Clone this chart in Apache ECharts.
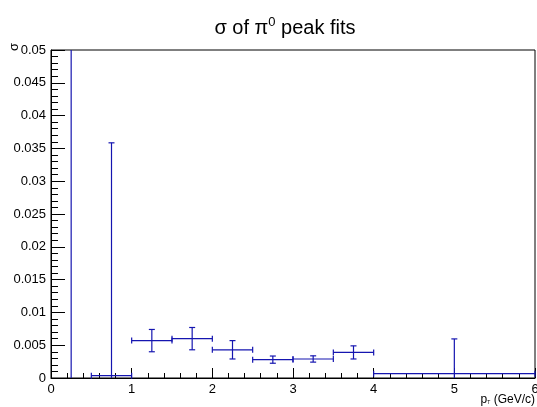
<!DOCTYPE html>
<html><head><meta charset="utf-8">
<script src="https://cdn.jsdelivr.net/npm/echarts@6/dist/echarts.min.js"></script>
<style>html,body{margin:0;padding:0;background:#fff}#c{width:537px;height:407px}</style>
</head><body><div id="c"></div>
<script>
// bin edges (pT, GeV/c)
const binLow  = [0,    0.5,     1.0,    1.5,    2.0,    2.5,    3.0,    3.5,    4.0];
const binHigh = [0.5,  1.0,     1.5,    2.0,    2.5,    3.0,    3.5,    4.0,    6.0];
// sigma values and errors
const sigma   = [0.07, 0.00035, 0.0057, 0.0060, 0.0043, 0.0028, 0.0029, 0.0039, 0.00066];
const sigErr  = [0.08, 0.0355,  0.0017, 0.0017, 0.0014, 0.00055,0.00048,0.0010, 0.0053];
const xTicks = [0,1,2,3,4,5,6];

const YMIN = 0, YMAX = 0.05, XMIN = 0, XMAX = 6;
const data = binLow.map((lo,i)=>[lo, binHigh[i], sigma[i], sigErr[i]]);
const COL = '#1515b0';
const FONT = 'Liberation Sans, Arial, Helvetica, sans-serif';

const chart = echarts.init(document.getElementById('c'), null, {renderer:'canvas'});
chart.setOption({
  animation:false,
  backgroundColor:'#fff',
  grid:{left:51, right:2, top:50, bottom:29, containLabel:false, outerBoundsMode:'none',
    show:true, borderColor:'#000', borderWidth:1, backgroundColor:'transparent'},
  xAxis:{type:'value', min:XMIN, max:XMAX, interval:1,
    axisLine:{show:true, onZero:false, lineStyle:{color:'#000', width:1}},
    axisTick:{show:true, inside:true, length:10, lineStyle:{color:'#000'}},
    minorTick:{show:true, splitNumber:5, length:5, lineStyle:{color:'#000'}},
    splitLine:{show:false},
    axisLabel:{color:'#000', fontSize:13, fontFamily:FONT, margin:5, showMaxLabel:true, showMinLabel:true,
      formatter:(v)=>String(xTicks[Math.round(v)] !== undefined ? xTicks[Math.round(v)] : v)}
  },
  yAxis:{type:'value', min:YMIN, max:YMAX, interval:0.005,
    axisLine:{show:true, onZero:false, lineStyle:{color:'#000', width:1}},
    axisTick:{show:true, inside:true, length:14, lineStyle:{color:'#000'}},
    minorTick:{show:true, splitNumber:5, length:7, lineStyle:{color:'#000'}},
    splitLine:{show:false},
    axisLabel:{color:'#000', fontSize:13, fontFamily:FONT, margin:5,
      formatter:(v)=>String(parseFloat(v.toFixed(4)))}
  },
  graphic:[
    {type:'text', x:285, y:28, style:{
      text:'{a|σ of π}{s|0}{a| peak fits}', textAlign:'center', textVerticalAlign:'middle',
      rich:{a:{fontSize:20, fontFamily:FONT, fill:'#000'}, s:{fontSize:13, fontFamily:FONT, fill:'#000', verticalAlign:'top', padding:[0,0,12,0]}}
    }},
    {type:'text', x:14, y:47, rotation:Math.PI/2, style:{text:'σ', fontSize:13, fontFamily:FONT, fill:'#000', textAlign:'center', textVerticalAlign:'middle'}},
    {type:'text', x:535, y:400, style:{
      text:'{a|p}{t|T}{a| (GeV/c)}', textAlign:'right', textVerticalAlign:'middle',
      rich:{a:{fontSize:12, fontFamily:FONT, fill:'#000'}, t:{fontSize:5, fontFamily:FONT, fill:'#000', padding:[6,0,0,0]}}
    }}
  ],
  series:[{
    type:'custom',
    data:data,
    encode:{x:[0,1], y:2},
    renderItem:function(params, api){
      const lo = api.value(0), hi = api.value(1), v = api.value(2), e = api.value(3);
      const children = [];
      const clampY = (y)=>Math.max(YMIN, Math.min(YMAX, y));
      const style = {stroke:COL, lineWidth:1.2};
      const cap = 3;
      if (v >= YMIN && v <= YMAX) {
        const p1 = api.coord([lo, v]), p2 = api.coord([hi, v]);
        children.push({type:'line', shape:{x1:p1[0], y1:p1[1], x2:p2[0], y2:p2[1]}, style:style});
        children.push({type:'line', shape:{x1:p1[0], y1:p1[1]-cap, x2:p1[0], y2:p1[1]+cap}, style:style});
        children.push({type:'line', shape:{x1:p2[0], y1:p2[1]-cap, x2:p2[0], y2:p2[1]+cap}, style:style});
      }
      const xc = (lo+hi)/2;
      const top = v + e, bot = v - e;
      const q1 = api.coord([xc, clampY(bot)]), q2 = api.coord([xc, clampY(top)]);
      children.push({type:'line', shape:{x1:q1[0], y1:q1[1], x2:q2[0], y2:q2[1]}, style:style});
      if (top <= YMAX) children.push({type:'line', shape:{x1:q2[0]-cap, y1:q2[1], x2:q2[0]+cap, y2:q2[1]}, style:style});
      if (bot >= YMIN) children.push({type:'line', shape:{x1:q1[0]-cap, y1:q1[1], x2:q1[0]+cap, y2:q1[1]}, style:style});
      return {type:'group', children:children};
    }
  }]
});
</script></body></html>
